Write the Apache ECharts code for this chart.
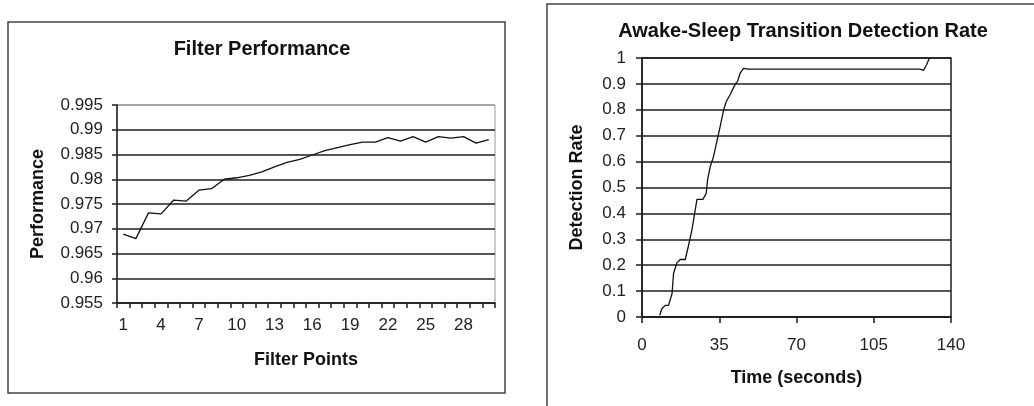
<!DOCTYPE html>
<html>
<head>
<meta charset="utf-8">
<script src="https://cdn.jsdelivr.net/npm/echarts@6/dist/echarts.min.js"></script>
<style>
html,body{margin:0;padding:0;background:#fff;}
#c{width:1034px;height:406px;}
</style>
</head>
<body>
<div id="c"></div>
<script>
// ---- Left chart: Filter Performance ----
const filterPoints = ['1','2','3','4','5','6','7','8','9','10','11','12','13','14','15','16','17','18','19','20','21','22','23','24','25','26','27','28','29','30'];
const performance = [0.9689,0.9680,0.9732,0.9730,0.9758,0.9756,0.9778,0.9781,0.9800,0.9803,0.9808,0.9815,0.9825,0.9834,0.9840,0.9849,0.9858,0.9864,0.9870,0.9875,0.9875,0.9884,0.9877,0.9886,0.9875,0.9886,0.9883,0.9886,0.9873,0.9880];
const perfTicks = {min:0.955, max:0.995, interval:0.005};

// ---- Right chart: Awake-Sleep Transition Detection Rate ----
const timeSec    = [8.0, 9.0, 10.5, 12.0, 12.5, 13.6, 14.3, 15.8, 17.3, 19.6, 21.1, 22.6, 24.1, 24.9, 27.6, 29.1, 29.7, 30.9, 32.4, 35.4, 37.0, 38.2, 40.0, 42.3, 43.3, 44.5, 46.0, 46.8, 48.3, 126.0, 127.5, 129.0, 130.2];
const detectRate = [0.007,0.032,0.045,0.045,0.047,0.09,0.168,0.209,0.222,0.222,0.277,0.335,0.413,0.454,0.454,0.478,0.529,0.58,0.619,0.735,0.80,0.832,0.86,0.90,0.91,0.942,0.96,0.965,0.957,0.957,0.952,0.975,1.0];
const timeTicks = {min:0, max:140, interval:35};
const rateTicks = {min:0, max:1, interval:0.1};

const FONT = '"Liberation Sans", Arial, sans-serif';
const dark = '#1e1e1e';

const chart = echarts.init(document.getElementById('c'), null, {renderer:'canvas'});
const leftSplitColors = [dark,dark,dark,dark,dark,dark,dark,dark,'#9a9a9a'];

const option = {
  backgroundColor:'#fff',
  animation:false,
  title:[
    {text:'Filter Performance', left:257, top:34, textAlign:'center',
     textStyle:{fontFamily:FONT, fontSize:20, fontWeight:'bold', color:'#111'}},
    {text:'Awake-Sleep Transition Detection Rate', left:798, top:16, textAlign:'center',
     textStyle:{fontFamily:FONT, fontSize:20, fontWeight:'bold', color:'#111'}}
  ],
  graphic:[
    {type:'rect', shape:{x:8, y:22, width:497, height:371}, style:{fill:'none', stroke:'#444', lineWidth:1.5}, silent:true},
    {type:'rect', shape:{x:547, y:4, width:600, height:500}, style:{fill:'none', stroke:'#444', lineWidth:1.5}, silent:true}
  ],
  grid:[
    {left:117, top:105, width:378, height:198, show:true, borderColor:'#9a9a9a', borderWidth:1, backgroundColor:'transparent'},
    {left:642, top:58, width:309, height:259, show:true, borderColor:dark, borderWidth:1.5, backgroundColor:'transparent'}
  ],
  xAxis:[
    {type:'category', gridIndex:0, data:filterPoints, boundaryGap:true,
     name:'Filter Points', nameLocation:'middle', nameGap:48,
     nameTextStyle:{fontFamily:FONT, fontSize:18, fontWeight:'bold', color:'#111'},
     axisLine:{lineStyle:{color:dark, width:1.5}},
     axisTick:{show:true, interval:0, length:5, inside:false, lineStyle:{color:dark, width:1.5}},
     axisLabel:{interval:2, margin:14, fontFamily:FONT, fontSize:17, color:'#222'},
     splitLine:{show:false}},
    {type:'value', gridIndex:1, min:timeTicks.min, max:timeTicks.max, interval:timeTicks.interval,
     name:'Time (seconds)', nameLocation:'middle', nameGap:52,
     nameTextStyle:{fontFamily:FONT, fontSize:18, fontWeight:'bold', color:'#111'},
     axisLine:{onZero:false, lineStyle:{color:dark, width:1.5}},
     axisTick:{show:true, length:6, lineStyle:{color:dark, width:1.5}},
     axisLabel:{margin:20, fontFamily:FONT, fontSize:17, color:'#222'},
     splitLine:{show:false}}
  ],
  yAxis:[
    {type:'value', gridIndex:0, min:perfTicks.min, max:perfTicks.max, interval:perfTicks.interval,
     name:'Performance', nameLocation:'middle', nameGap:70,
     nameTextStyle:{fontFamily:FONT, fontSize:18, fontWeight:'bold', color:'#111'},
     axisLine:{show:true, lineStyle:{color:dark, width:1.5}},
     axisTick:{show:true, length:5, lineStyle:{color:dark, width:1.5}},
     axisLabel:{margin:14, fontFamily:FONT, fontSize:17, color:'#222',
       formatter:v=>String(parseFloat(v.toFixed(3)))},
     splitLine:{show:true, lineStyle:{color:leftSplitColors, width:1.5}}},
    {type:'value', gridIndex:1, min:rateTicks.min, max:rateTicks.max, interval:rateTicks.interval,
     name:'Detection Rate', nameLocation:'middle', nameGap:56,
     nameTextStyle:{fontFamily:FONT, fontSize:18, fontWeight:'bold', color:'#111'},
     axisLine:{show:true, lineStyle:{color:dark, width:1.5}},
     axisTick:{show:true, length:6, lineStyle:{color:dark, width:1.5}},
     axisLabel:{margin:16, fontFamily:FONT, fontSize:17, color:'#222',
       formatter:v=>String(parseFloat(v.toFixed(2)))},
     splitLine:{show:true, lineStyle:{color:dark, width:1.5}}}
  ],
  series:[
    {type:'line', xAxisIndex:0, yAxisIndex:0, data:performance, symbol:'none',
     lineStyle:{color:'#111', width:1.3}},
    {type:'line', xAxisIndex:1, yAxisIndex:1, data:timeSec.map((t,i)=>[t, detectRate[i]]), symbol:'none',
     lineStyle:{color:'#111', width:1.3}}
  ]
};
chart.setOption(option);
</script>
</body>
</html>
